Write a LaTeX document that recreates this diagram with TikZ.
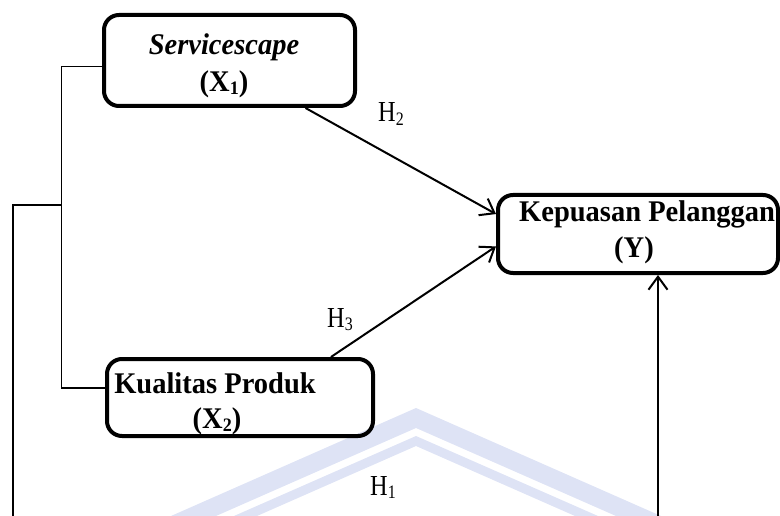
\documentclass[tikz,border=0pt]{standalone}
\usepackage{fontspec}
\setmainfont{Liberation Serif}
\newfontfamily\lblfont[FakeStretch=0.84]{Liberation Serif}
\newfontfamily\boxfont[FakeStretch=0.95]{Liberation Serif}
\usetikzlibrary{arrows.meta}
\definecolor{wmark}{RGB}{222,227,245}
\newcommand\subnum[1]{\raisebox{-0.12em}{\fontsize{19}{19}\selectfont #1}}
\newcommand\subbox[1]{\raisebox{-0.1em}{\fontsize{19}{19}\selectfont #1}}
\begin{document}
\begin{tikzpicture}[x=1pt,y=-1pt,
  varbox/.style={draw, line width=4pt, rounded corners=15pt, inner sep=0pt},
  vartext/.style={inner sep=0pt, anchor=base, font=\boxfont\fontsize{30}{32}\selectfont\bfseries},
  hlabel/.style={inner sep=0pt, anchor=base west, font=\lblfont\fontsize{29}{29}\selectfont},
  arr/.style={line width=2pt, -{Straight Barb[length=13pt,width=19pt,line width=2pt]}},
  thin/.style={line width=1.5pt}]
\useasboundingbox (0,0) rectangle (780,516);
\clip (0,0) rectangle (780,516);
% watermark
\fill[wmark] (171,516) -- (416,408) -- (661,516) -- (616,516) -- (416,428) -- (216,516) -- cycle;
\fill[wmark] (234,516) -- (416,436) -- (598,516) -- (575,516) -- (416,446) -- (257,516) -- cycle;
% boxes
\node[varbox, minimum width=251pt, minimum height=91pt] (b1) at (229.5,60.5) {};
\node[varbox, minimum width=266pt, minimum height=77pt] (b2) at (240,397.5) {};
\node[varbox, minimum width=280pt, minimum height=78pt] (y) at (638,234) {};
% texts
\node[vartext] (t1a) at (224,55) {\itshape Servicescape};
\node[vartext] (t1b) at (224,92) {(X\subbox{1})};
\node[vartext] (t2a) at (215,393) {Kualitas Produk};
\node[vartext] (t2b) at (217,428) {(X\subbox{2})};
\node[vartext, anchor=base west] (tya) at (519,222) {Kepuasan Pelanggan};
\node[vartext] (tyb) at (634,258) {(Y)};
% labels
\node[hlabel] (h2) at (378,122) {H\subnum{2}};
\node[hlabel] (h3) at (327,327) {H\subnum{3}};
\node[hlabel] (h1) at (370,495) {H\subnum{1}};
% arrows
\draw[arr] (b1.-32) -- (y.172);
\draw[arr] (b2.24) -- (y.185);
\coordinate (h1start) at (658,520);
\draw[arr] (h1start) -- (h1start |- y.south);
% left connector lines
\coordinate (j1) at (61.5,66.5);
\coordinate (j2) at (61.5,388);
\coordinate (j3) at (61.5,205);
\coordinate (j4) at (13,205);
\coordinate (j5) at (13,520);
\draw[thin] (j1 -| b1.west) -- (j1) -- (j2) -- (j2 -| b2.west);
\draw[thin] (j3) -- (j4) -- (j5);
\end{tikzpicture}
\end{document}
